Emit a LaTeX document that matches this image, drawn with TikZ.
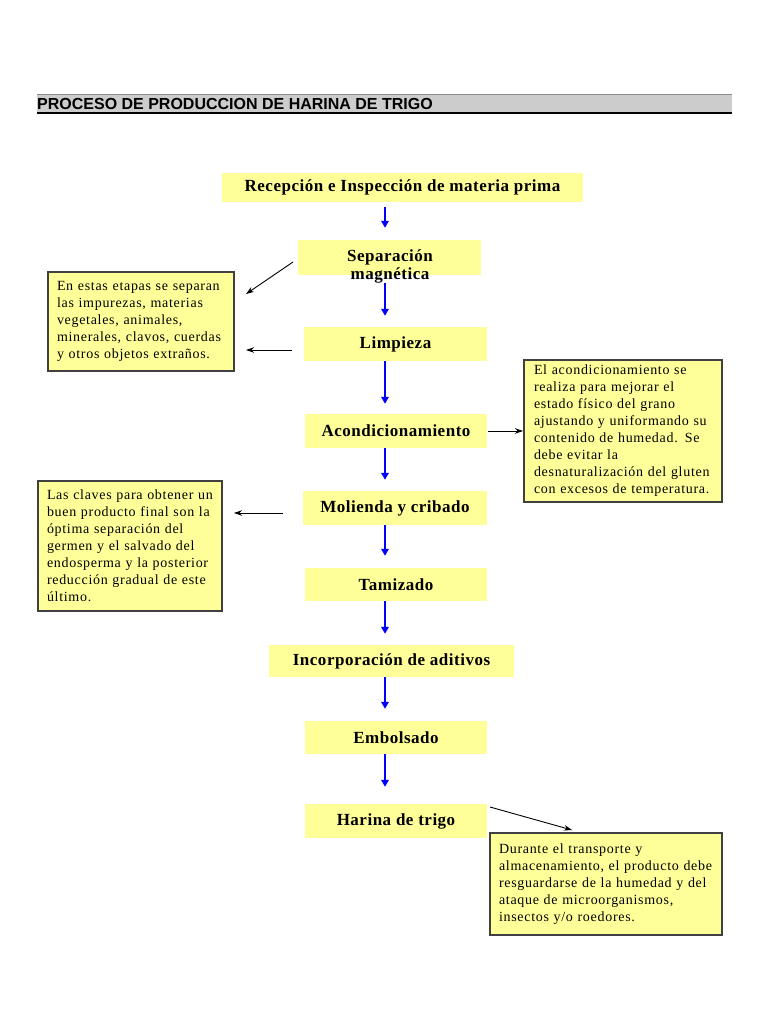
\documentclass[tikz,border=0pt]{standalone}
\usepackage{fontspec}
\setmainfont{Liberation Serif}
\newfontfamily\flowfontfam[LetterSpace=3]{Liberation Serif}
\newfontfamily\notefontfam[LetterSpace=5]{Liberation Serif}
\newfontfamily\titlefontfam{Liberation Sans}
\usetikzlibrary{arrows.meta,calc}
\definecolor{boxyellow}{HTML}{FFFF99}
\definecolor{titlegray}{HTML}{CCCCCC}
\begin{document}
\begin{tikzpicture}[x=1pt,y=-1pt,
  flowbox/.style={fill=boxyellow, inner sep=0pt, font=\flowfontfam\bfseries\fontsize{17}{18}\selectfont},
  flowtext/.style={inner sep=0pt, align=center, font=\flowfontfam\bfseries\fontsize{17}{18}\selectfont},
  notebox/.style={fill=boxyellow, draw=black!75, line width=1.4pt, inner xsep=9pt, inner ysep=0pt, align=left, font=\notefontfam\fontsize{14}{17}\selectfont},
  bluearrow/.style={draw=blue, line width=2.6pt, -{Triangle[length=7pt,width=7.5pt]}},
  notearrow/.style={draw=black, line width=0.9pt, -{Stealth[length=8pt,width=5.5pt]}}
]
\useasboundingbox[fill=white] (0,0) rectangle (768,1024);

% title bar
\node[fill=titlegray, minimum width=695, minimum height=19, inner sep=0pt, anchor=north west] (bar) at (37,94) {};
\draw[black!45, line width=0.8pt] (bar.north west) -- (bar.north east);
\draw[black, line width=2pt] (bar.south west) -- (bar.south east);
\node[anchor=base west, inner sep=0pt, font=\titlefontfam\bfseries\fontsize{16}{19}\selectfont] (title) at (37,109.5) {PROCESO DE PRODUCCION DE HARINA DE TRIGO};

% flow boxes
\node[flowbox, minimum width=361, minimum height=29] (b1) at (402.5,187.5) {Recepción e Inspección de materia prima};
\node[flowbox, minimum width=183, minimum height=35] (b2) at (389.5,257.5) {};
\node[flowtext] (b2t) at (390,266) {Separación\\magnética};
\node[flowbox, minimum width=183, minimum height=34] (b3) at (395.5,344) {Limpieza};
\node[flowbox, minimum width=182, minimum height=34] (b4) at (396,431) {Acondicionamiento};
\node[flowbox, minimum width=184, minimum height=34] (b5) at (395,508) {Molienda y cribado};
\node[flowbox, minimum width=182, minimum height=33] (b6) at (396,584.5) {Tamizado};
\node[flowbox, minimum width=245, minimum height=32] (b7) at (391.5,661) {Incorporación de aditivos};
\node[flowbox, minimum width=182, minimum height=33] (b8) at (396,737.5) {Embolsado};
\node[flowbox, minimum width=182, minimum height=34] (b9) at (396,821) {Harina de trigo};

% blue arrows
\coordinate (ax) at (385,0);
\draw[bluearrow, shorten <=5pt, shorten >=12pt] (b1.south -| ax) -- (b2.north -| ax);
\draw[bluearrow, shorten <=8pt, shorten >=11pt] (b2.south -| ax) -- (b3.north -| ax);
\draw[bluearrow, shorten >=10pt] (b3.south -| ax) -- (b4.north -| ax);
\draw[bluearrow, shorten >=11pt] (b4.south -| ax) -- (b5.north -| ax);
\draw[bluearrow, shorten >=12pt] (b5.south -| ax) -- (b6.north -| ax);
\draw[bluearrow, shorten >=11pt] (b6.south -| ax) -- (b7.north -| ax);
\draw[bluearrow, shorten >=12pt] (b7.south -| ax) -- (b8.north -| ax);
\draw[bluearrow, shorten >=17pt] (b8.south -| ax) -- (b9.north -| ax);

% notes
\node[notebox, minimum height=99, text width=168] (n1) at (141,321.5)
  {En estas etapas se separan\\las impurezas, materias\\vegetales, animales,\\minerales, clavos, cuerdas\\y otros objetos extraños.};
\node[notebox, inner xsep=10pt, minimum height=142, text width=178] (n2) at (623,431)
  {El acondicionamiento se\\realiza para mejorar el\\estado físico del grano\\ajustando y uniformando su\\contenido de humedad. Se\\debe evitar la\\desnaturalización del gluten\\con excesos de temperatura.};
\node[notebox, minimum height=130, text width=166] (n3) at (130,546)
  {Las claves para obtener un\\buen producto final son la\\óptima separación del\\germen y el salvado del\\endosperma y la posterior\\reducción gradual de este\\último.};
\node[notebox, minimum height=102, text width=214] (n4) at (606,884)
  {Durante el transporte y\\almacenamiento, el producto debe\\resguardarse de la humedad y del\\ataque de microorganismos,\\insectos y/o roedores.};

% note arrows
\coordinate (c1s) at (293,262);
\coordinate (c1e) at (246,294);
\coordinate (c2s) at (292,350);
\coordinate (c2e) at (246,350);
\coordinate (c3s) at (488,431);
\coordinate (c3e) at (523,431);
\coordinate (c4s) at (283,513);
\coordinate (c4e) at (234,513);
\coordinate (c5s) at (490,807);
\coordinate (c5e) at (572,830);
\draw[notearrow] (c1s) -- (c1e);
\draw[notearrow] (c2s) -- (c2e);
\draw[notearrow] (c3s) -- (c3e);
\draw[notearrow] (c4s) -- (c4e);
\draw[notearrow] (c5s) -- (c5e);
\end{tikzpicture}
\end{document}
